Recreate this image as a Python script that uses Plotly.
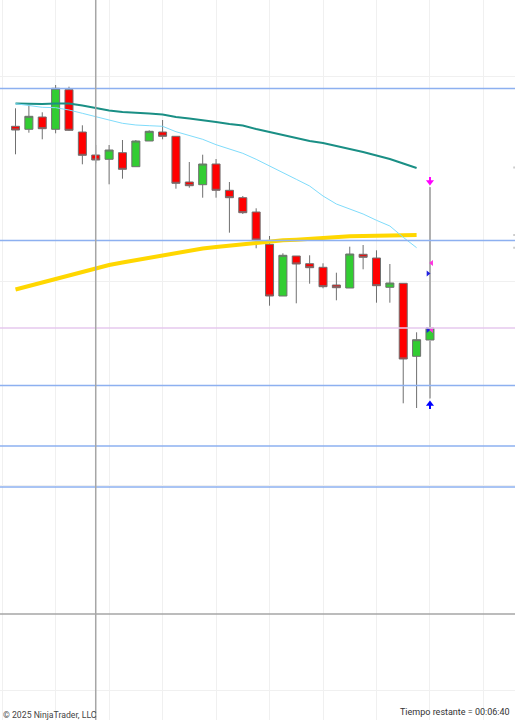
import plotly.graph_objects as go

# bar number and price for each candle (32 bars)
bars = list(range(32))
opens = [593.7, 590.7, 603, 590.7, 630.3, 588, 565, 560.7, 567.3, 553.3, 579, 588, 583.7, 538, 535.3, 556,
         529.7, 522.3, 508, 475.7, 424, 464, 456.3, 452.7, 435, 432, 465.7, 462, 432.7, 436.7, 363.7, 380]
highs = [611.7, 615, 607.7, 635, 633.3, 594.7, 575, 575, 580, 580, 589.7, 600, 583.7, 558, 565.3, 561,
         538, 524, 511.7, 484, 466.7, 464, 464.7, 456.7, 447.3, 473.3, 475, 469.7, 456, 436.7, 387.7, 532.7]
lows = [565.7, 587.3, 580.7, 586.7, 589, 555.7, 556.7, 535.7, 541.3, 553.3, 579, 580.7, 531.3, 532.3, 522.3, 522.3,
        487.3, 506, 471.7, 414.3, 424, 416.7, 436.3, 431.7, 419.7, 432, 450.7, 417.3, 417.3, 316.7, 312, 321.7]
closes = [590, 603.7, 591.3, 631.7, 589.7, 564.7, 560, 570, 550.7, 579, 588.7, 583.7, 536.7, 534.3, 556, 529.7,
          522.3, 507.3, 480, 424, 464.7, 456, 452.3, 433.3, 432.3, 466, 462.7, 434.3, 437, 361, 380.3, 392]

# moving averages, they stop one bar before the last candle
ma_bars = bars[:31]
ma_teal = [616.5, 616, 616, 616.5, 616.5, 614.5, 612, 609.5, 608, 607.5, 606.5, 605.5, 603, 601.5, 600, 598,
           596, 594.5, 591, 588, 585, 582, 579, 577, 574, 571.5, 568, 564.5, 561, 556.5, 552]
ma_light = [616.3, 614.5, 612.7, 612.3, 610, 606.7, 603.7, 600, 596.7, 595, 594.3, 593.7, 588.3, 584.3, 580.7, 575.3,
            571.3, 566.7, 560.7, 554.3, 547.7, 540.7, 534, 524, 516, 511.3, 506, 499.7, 494, 482.7, 472.3]
ma_gold = [430.5, 434, 437.5, 441, 445, 449, 452.5, 455, 457.5, 460, 462.5, 465, 467.5, 470, 471.5, 473,
           474.5, 475.5, 476.5, 479, 479.7, 480.3, 481.3, 482.7, 483.3, 483.7, 484, 484.3, 484.7, 484.8, 485]

# horizontal levels and crosshair
blue_levels = [631.5, 479.5, 334.5, 274, 233]
pink_level = 392
cross_price = 106
cross_bar = 6

# order arrows and small fill triangles on the last bar
arrow_bar = 31
stop_stem = [543, 536]
stop_head = [538]
target_stem = [311, 318]
target_head = [316]
tri_right_x = [30.85, 30.85]
tri_right_y = [446.5, 390]
tri_left_x = [31.13, 31.13]
tri_left_y = [457, 390]

# faint price markers cut off at the right edge
edge_x = [37.3, 37.3, 37.3]
edge_y = [552.5, 485, 472.3]

GRID = "#f0f0f0"

fig = go.Figure()
fig.add_trace(go.Candlestick(
    x=bars, open=opens, high=highs, low=lows, close=closes,
    increasing=dict(fillcolor="#32cd32", line=dict(color="#707070", width=1)),
    decreasing=dict(fillcolor="#ff0000", line=dict(color="#707070", width=1)),
    whiskerwidth=0, showlegend=False))

fig.add_trace(go.Scatter(x=ma_bars, y=ma_gold, mode="lines", line=dict(color="#ffd700", width=4)))
fig.add_trace(go.Scatter(x=ma_bars, y=ma_teal, mode="lines", line=dict(color="#1a8f85", width=2)))
fig.add_trace(go.Scatter(x=ma_bars, y=ma_light, mode="lines", line=dict(color="#7fdcfb", width=1)))

for lvl in blue_levels:
    fig.add_hline(y=lvl, line=dict(color="#8db0f0", width=1.5))
fig.add_hline(y=pink_level, line=dict(color="#e6c8ee", width=1.5))
fig.add_hline(y=cross_price, line=dict(color="#a6a6a6", width=1.5))
fig.add_vline(x=cross_bar, line=dict(color="#a6a6a6", width=1.5))

# the last bar has a wider, paler wick
fig.add_trace(go.Scatter(x=[arrow_bar, arrow_bar, None, arrow_bar, arrow_bar],
                         y=[highs[-1], closes[-1], None, opens[-1], lows[-1]],
                         mode="lines", line=dict(color="#b0b0b0", width=2)))

fig.add_trace(go.Scatter(x=[arrow_bar, arrow_bar], y=stop_stem, mode="lines", line=dict(color="#ff00ff", width=2)))
fig.add_trace(go.Scatter(x=[arrow_bar], y=stop_head, mode="markers",
                         marker=dict(symbol="triangle-down", size=7, color="#ff00ff")))
fig.add_trace(go.Scatter(x=[arrow_bar, arrow_bar], y=target_stem, mode="lines", line=dict(color="#0000ff", width=2)))
fig.add_trace(go.Scatter(x=[arrow_bar], y=target_head, mode="markers",
                         marker=dict(symbol="triangle-up", size=7, color="#0000ff")))
fig.add_trace(go.Scatter(x=tri_right_x, y=tri_right_y, mode="markers",
                         marker=dict(symbol="triangle-right", size=5, color="#2020e0")))
fig.add_trace(go.Scatter(x=tri_left_x, y=tri_left_y, mode="markers",
                         marker=dict(symbol="triangle-left", size=5, color="#ff30e0")))
fig.add_trace(go.Scatter(x=edge_x, y=edge_y, mode="markers",
                         marker=dict(symbol="square", size=2, color="#cccccc")))

fig.add_annotation(text="© 2025 NinjaTrader, LLC", xref="paper", yref="paper", x=0.002, y=0.0, yshift=-2,
                   xanchor="left", yanchor="bottom", showarrow=False,
                   font=dict(family="Roboto", size=8.7, color="#444444"))
fig.add_annotation(text="Tiempo restante = 00:06:40", xref="paper", yref="paper", x=0.995, y=0.002,
                   xanchor="right", yanchor="bottom", showarrow=False,
                   font=dict(family="Roboto", size=9, color="#333333"))

fig.update_xaxes(range=[-1.16, 37.36], tick0=3, dtick=4, showgrid=True, gridcolor=GRID, gridwidth=1,
                 showticklabels=False, ticks="", zeroline=False, rangeslider_visible=False)
fig.update_yaxes(range=[0, 720], tick0=30, dtick=204.5, showgrid=True, gridcolor=GRID, gridwidth=1,
                 showticklabels=False, ticks="", zeroline=False)
fig.update_layout(width=515, height=720, margin=dict(l=0, r=0, t=0, b=0), boxgap=0.4, boxgroupgap=0,
                  paper_bgcolor="white", plot_bgcolor="white", showlegend=False)

fig.write_html("out.html", config={"displayModeBar": False}, post_script="document.body.style.margin='0';")
